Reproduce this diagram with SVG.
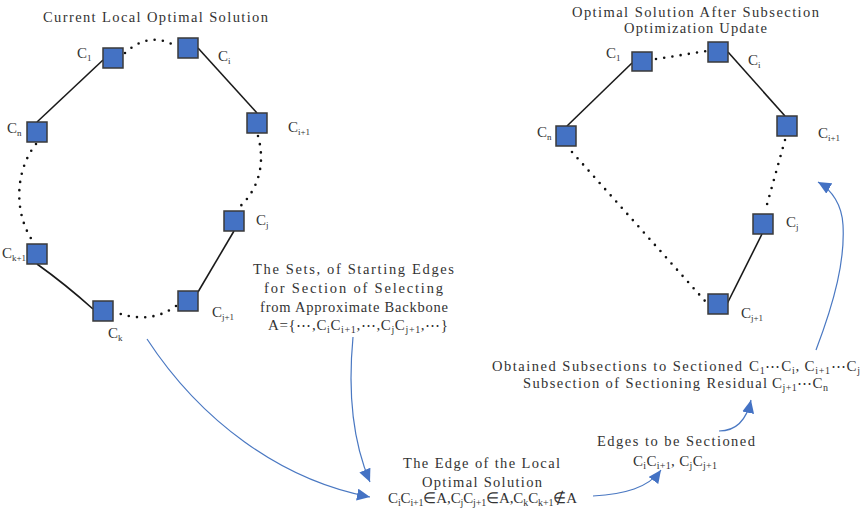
<svg xmlns="http://www.w3.org/2000/svg" width="865" height="513" viewBox="0 0 865 513">
<defs>
<style>
.node{fill:#4472C4;stroke:#3a3a3a;stroke-width:1.5}
.solid{fill:none;stroke:#1a1a1a;stroke-width:1.6}
.dot{fill:none;stroke:#111;stroke-width:2.6;stroke-linecap:round;stroke-dasharray:0 8.3}
.arrow{fill:none;stroke:#4a78c2;stroke-width:1.2}
.t{font-family:"Liberation Serif",serif;font-size:14.5px;fill:#333}
.f{font-family:"Liberation Serif",serif;font-size:15px;fill:#333}
.lb{font-family:"Liberation Serif",serif;font-size:15px;fill:#333}
.s{font-size:10px}
.ls{font-size:9px}
</style>
<marker id="ah" markerUnits="userSpaceOnUse" markerWidth="14" markerHeight="12" refX="13" refY="6" orient="auto">
<path d="M0,0 L13,6 L0,12 Z" fill="#4472C4"/>
</marker>
</defs>

<text class="t" x="43" y="22" textLength="225" lengthAdjust="spacing">Current Local Optimal Solution</text>
<text class="t" x="572" y="17" textLength="247" lengthAdjust="spacing">Optimal Solution After Subsection</text>
<text class="t" x="624" y="33" textLength="143" lengthAdjust="spacing">Optimization Update</text>

<g id="connectors">
<!-- left graph -->
<path class="dot" d="M125,53 Q150,30 177,47"/>
<path class="solid" d="M198,48 L257,113"/>
<path class="solid" d="M103,60 L37,122"/>
<path class="dot" d="M258,136 C266,165 258,192 236,210"/>
<path class="solid" d="M234,231 L198,292"/>
<path class="dot" d="M176,306 Q150,325 115,312"/>
<path class="solid" d="M37,264 Q65,284 93,309"/>
<path class="dot" d="M36,144 C14,172 14,215 34,243"/>
<!-- right graph -->
<path class="dot" d="M656,59 L707,51"/>
<path class="solid" d="M728,52 L785,116"/>
<path class="solid" d="M632,63 L567,126"/>
<path class="dot" d="M785,140 L766,208"/>
<path class="solid" d="M762,234 L727,304"/>
<path class="dot" d="M572,152 L705,301"/>
<!-- flow arrows -->
<path class="arrow" marker-end="url(#ah)" d="M147,339 C200,420 280,480 370,497"/>
<path class="arrow" marker-end="url(#ah)" d="M353,337 C348,390 352,440 370,482"/>
<path class="arrow" marker-end="url(#ah)" d="M593,496 C625,494 648,488 661,470"/>
<path class="arrow" marker-end="url(#ah)" d="M719,431 C737,431 747,418 751,400"/>
<path class="arrow" marker-end="url(#ah)" d="M816,350 C835,300 845,260 843,225 C842,205 832,190 818,182"/>
</g>

<g id="L_C1"><rect class="node" x="103" y="48" width="20" height="20"/><text class="lb" x="77" y="58">C<tspan class="ls" dy="3">1</tspan></text></g>
<g id="L_Ci"><rect class="node" x="178" y="38" width="20" height="20"/><text class="lb" x="218" y="61">C<tspan class="ls" dy="3">i</tspan></text></g>
<g id="L_Ci1"><rect class="node" x="247" y="113" width="20" height="20"/><text class="lb" x="288" y="132">C<tspan class="ls" dy="3">i+1</tspan></text></g>
<g id="L_Cn"><rect class="node" x="27" y="122" width="20" height="20"/><text class="lb" x="7" y="133">C<tspan class="ls" dy="3">n</tspan></text></g>
<g id="L_Cj"><rect class="node" x="224" y="211" width="20" height="20"/><text class="lb" x="256" y="225">C<tspan class="ls" dy="3">j</tspan></text></g>
<g id="L_Cj1"><rect class="node" x="178" y="291" width="20" height="20"/><text class="lb" x="212" y="317">C<tspan class="ls" dy="3">j+1</tspan></text></g>
<g id="L_Ck"><rect class="node" x="93" y="301" width="20" height="20"/><text class="lb" x="108" y="338">C<tspan class="ls" dy="3">k</tspan></text></g>
<g id="L_Ck1"><rect class="node" x="27" y="244" width="20" height="20"/><text class="lb" x="2" y="258">C<tspan class="ls" dy="3">k+1</tspan></text></g>

<g id="R_C1"><rect class="node" x="632" y="52" width="20" height="19"/><text class="lb" x="606" y="58">C<tspan class="ls" dy="3">1</tspan></text></g>
<g id="R_Ci"><rect class="node" x="708" y="42" width="20" height="20"/><text class="lb" x="748" y="65">C<tspan class="ls" dy="3">i</tspan></text></g>
<g id="R_Ci1"><rect class="node" x="777" y="116" width="20" height="20"/><text class="lb" x="818" y="138">C<tspan class="ls" dy="3">i+1</tspan></text></g>
<g id="R_Cn"><rect class="node" x="556" y="126" width="20" height="20"/><text class="lb" x="537" y="137">C<tspan class="ls" dy="3">n</tspan></text></g>
<g id="R_Cj"><rect class="node" x="753" y="214" width="20" height="20"/><text class="lb" x="786" y="227">C<tspan class="ls" dy="3">j</tspan></text></g>
<g id="R_Cj1"><rect class="node" x="708" y="294" width="20" height="20"/><text class="lb" x="741" y="318">C<tspan class="ls" dy="3">j+1</tspan></text></g>

<g id="sets">
<text class="t" x="253" y="274" textLength="201" lengthAdjust="spacing">The Sets, of Starting Edges</text>
<text class="t" x="264" y="293" textLength="179" lengthAdjust="spacing">for Section of Selecting</text>
<text class="t" x="260" y="312" textLength="188" lengthAdjust="spacing">from Approximate Backbone</text>
<text class="f" x="268" y="330" textLength="180" lengthAdjust="spacing">A={⋯,C<tspan class="s" dy="3">i</tspan><tspan dy="-3">C</tspan><tspan class="s" dy="3">i+1</tspan><tspan dy="-3">,⋯,C</tspan><tspan class="s" dy="3">j</tspan><tspan dy="-3">C</tspan><tspan class="s" dy="3">j+1</tspan><tspan dy="-3">,⋯}</tspan></text>
</g>

<g id="edge_local">
<text class="t" x="403" y="468" textLength="157" lengthAdjust="spacing">The Edge of the Local</text>
<text class="t" x="422" y="487" textLength="120" lengthAdjust="spacing">Optimal Solution</text>
<text class="f" x="388" y="503" textLength="189" lengthAdjust="spacing">C<tspan class="s" dy="3">i</tspan><tspan dy="-3">C</tspan><tspan class="s" dy="3">i+1</tspan><tspan dy="-3">∈A,C</tspan><tspan class="s" dy="3">j</tspan><tspan dy="-3">C</tspan><tspan class="s" dy="3">j+1</tspan><tspan dy="-3">∈A,C</tspan><tspan class="s" dy="3">k</tspan><tspan dy="-3">C</tspan><tspan class="s" dy="3">k+1</tspan><tspan dy="-3">∉A</tspan></text>
</g>

<g id="edges_sectioned">
<text class="t" x="597" y="446" textLength="158" lengthAdjust="spacing">Edges to be Sectioned</text>
<text class="f" x="633" y="466" textLength="84" lengthAdjust="spacing">C<tspan class="s" dy="3">i</tspan><tspan dy="-3">C</tspan><tspan class="s" dy="3">i+1</tspan><tspan dy="-3">,  C</tspan><tspan class="s" dy="3">j</tspan><tspan dy="-3">C</tspan><tspan class="s" dy="3">j+1</tspan></text>
</g>

<g id="subsections">
<text class="t" x="492" y="371" textLength="250" lengthAdjust="spacing">Obtained Subsections  to Sectioned</text>
<text class="f" x="749" y="371" textLength="111" lengthAdjust="spacing">C<tspan class="s" dy="3">1</tspan><tspan dy="-3">⋯C</tspan><tspan class="s" dy="3">i</tspan><tspan dy="-3">,  C</tspan><tspan class="s" dy="3">i+1</tspan><tspan dy="-3">⋯C</tspan><tspan class="s" dy="3">j</tspan></text>
<text class="t" x="523" y="388" textLength="244" lengthAdjust="spacing">Subsection of Sectioning Residual</text>
<text class="f" x="772" y="388" textLength="56" lengthAdjust="spacing">C<tspan class="s" dy="3">j+1</tspan><tspan dy="-3">⋯C</tspan><tspan class="s" dy="3">n</tspan></text>
</g>
</svg>
